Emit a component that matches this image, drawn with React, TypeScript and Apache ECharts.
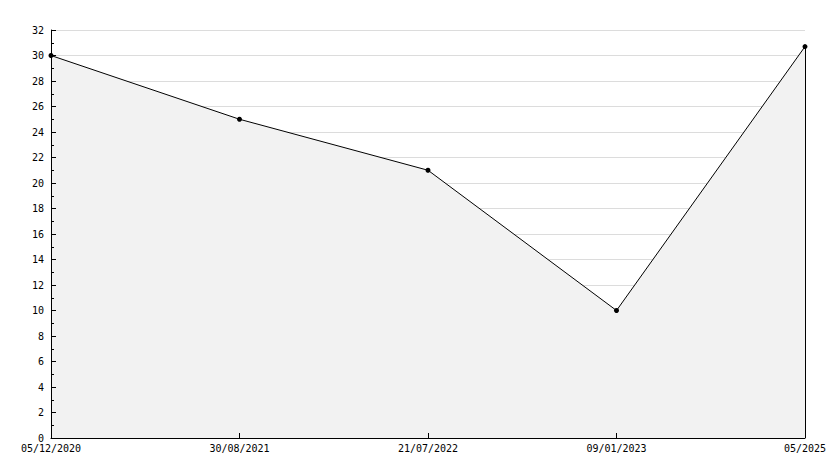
import React, { useEffect, useRef } from "react";
import * as echarts from "echarts";

const categories = ["05/12/2020", "30/08/2021", "21/07/2022", "09/01/2023", "05/2025"];
const values = [30, 25, 21, 10, 30.7];
const yMin = 0;
const yMax = 32;
const yInterval = 2;

export default function App() {
  const ref = useRef<HTMLDivElement>(null);
  useEffect(() => {
    document.body.style.margin = "0";
    const chart = echarts.init(ref.current!, null, { renderer: "svg" });
    const font = "DejaVu Sans Mono";
    const lastCat = categories[categories.length - 1];
    const lastVal = values[values.length - 1];
    chart.setOption({
      animation: false,
      backgroundColor: "#ffffff",
      grid: { left: 51, right: 29, top: 30, bottom: 30, containLabel: false },
      xAxis: [
        {
          type: "category",
          data: categories,
          boundaryGap: false,
          z: 10,
          axisLine: { show: true, lineStyle: { color: "#000", width: 1 } },
          axisTick: { show: true, inside: true, length: 5, alignWithLabel: true, lineStyle: { color: "#000" } },
          axisLabel: { color: "#000", fontFamily: font, fontSize: 10, margin: 5, interval: 0 },
          splitLine: { show: false },
        },
      ],
      yAxis: [
        {
          type: "value",
          min: yMin,
          max: yMax,
          interval: yInterval,
          z: 0,
          axisLine: { show: false },
          axisTick: { show: false },
          axisLabel: { show: false },
          splitLine: { show: true, lineStyle: { color: "#dcdcdc", width: 1 } },
        },
        {
          type: "value",
          min: yMin,
          max: yMax,
          interval: yInterval,
          position: "left",
          z: 10,
          axisLine: { show: true, lineStyle: { color: "#000", width: 1 } },
          axisTick: { show: true, inside: true, length: 5, lineStyle: { color: "#000" } },
          minorTick: { show: true, splitNumber: 2, length: 3, lineStyle: { color: "#000" } },
          axisLabel: { color: "#000", fontFamily: font, fontSize: 10, margin: 7 },
          splitLine: { show: false },
        },
      ],
      series: [
        {
          type: "line",
          data: values,
          yAxisIndex: 0,
          symbol: "circle",
          symbolSize: 5,
          itemStyle: { color: "#000" },
          lineStyle: { color: "#000", width: 1 },
          areaStyle: { color: "#f2f2f2", opacity: 1 },
          markLine: {
            silent: true,
            symbol: "none",
            label: { show: false },
            lineStyle: { color: "#000", width: 1, type: "solid" },
            data: [[{ coord: [lastCat, yMin] }, { coord: [lastCat, lastVal] }]],
          },
        },
      ],
    });
    return () => chart.dispose();
  }, []);
  return <div ref={ref} style={{ width: 834, height: 468 }} />;
}
